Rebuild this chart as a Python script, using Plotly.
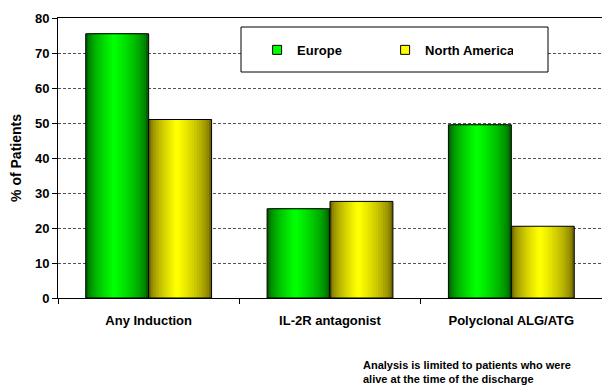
import plotly.graph_objects as go

categories = ["Any Induction", "IL-2R antagonist", "Polyclonal ALG/ATG"]
europe = [75.5, 25.5, 49.5]
north_america = [51.0, 27.6, 20.5]
series_names = ["Europe", "North America"]
y_ticks = [0, 10, 20, 30, 40, 50, 60, 70, 80]
note_lines = ["Analysis is limited to patients who were", "alive at the time of the discharge"]

FONT = "Liberation Sans, Arial, sans-serif"
W = 0.347          # bar width in category units
N = 14             # gradient layers
PEAK = 0.45        # position of brightest band within a bar

series = [
    (series_names[0], europe, -W / 2, (0, 95, 0), (0, 255, 0)),
    (series_names[1], north_america, W / 2, (112, 102, 0), (255, 255, 0)),
]

fig = go.Figure()
for name, vals, center, dark, bright in series:
    left0 = center - W / 2
    for k in range(N):
        t = k / (N - 1)
        e = t ** 0.6
        col = "rgb(%d,%d,%d)" % tuple(round(d + (b - d) * e) for d, b in zip(dark, bright))
        left = left0 + k * (PEAK * W / N)
        right = left0 + W - k * ((1 - PEAK) * W / N)
        fig.add_trace(go.Bar(
            x=categories, y=vals, width=right - left, offset=left,
            marker=dict(color=col, line=dict(width=0)),
            showlegend=False, hoverinfo="skip",
        ))
    # outline
    fig.add_trace(go.Bar(
        x=categories, y=vals, width=W, offset=left0,
        marker=dict(color="rgba(0,0,0,0)", line=dict(color="black", width=1)),
        showlegend=False, name=name,
    ))
    # legend entry
    fig.add_trace(go.Scatter(
        x=[None], y=[None], name=name, mode="markers",
        marker=dict(symbol="square", size=9, color="rgb(%d,%d,%d)" % bright,
                    line=dict(color="black", width=1)),
        showlegend=True,
    ))

fig.update_layout(
    width=602, height=385,
    margin=dict(l=58, r=0, t=18, b=87),
    barmode="overlay",
    plot_bgcolor="white", paper_bgcolor="white",
    font=dict(family=FONT, size=12, color="black"),
    showlegend=True,
    legend=dict(
        orientation="h", x=0.366, xanchor="left", y=0.886, yanchor="middle",
        bgcolor="rgba(0,0,0,0)", borderwidth=0,
        font=dict(family=FONT, size=13, color="black", weight="bold"),
        entrywidth=83, entrywidthmode="pixels",
    ),
    shapes=[dict(
        type="rect", xref="paper", yref="paper",
        x0=(241 - 58) / 544, x1=(548 - 58) / 544,
        y0=(298 - 72) / 280, y1=(298 - 27) / 280,
        line=dict(color="black", width=1), fillcolor="white", layer="above",
    )],
    annotations=[dict(
        text="<br>".join(note_lines), xref="paper", yref="paper",
        x=(361 - 58) / 544, y=(298 - 357) / 280, xanchor="left", yanchor="top",
        align="left", showarrow=False,
        font=dict(family=FONT, size=11, color="black", weight="bold"),
    )],
)

fig.update_xaxes(
    type="category", showline=True, linecolor="black", linewidth=1, mirror=True,
    ticks="outside", tickson="boundaries", ticklen=5, tickcolor="black",
    showgrid=False, tickfont=dict(family=FONT, size=13, weight="bold"),
    ticklabelstandoff=10,
)
fig.update_yaxes(
    range=[0, 80], tickvals=y_ticks, showline=True, linecolor="black", linewidth=1,
    ticks="outside", ticklen=5, tickcolor="black",
    showgrid=True, gridcolor="#555555", griddash="3px,2px", gridwidth=1,
    zeroline=False,
    tickfont=dict(family=FONT, size=13, weight="bold"),
    title=dict(text="% of Patients", font=dict(family=FONT, size=14, weight="bold"), standoff=10),
)

fig.write_html("out.html")
